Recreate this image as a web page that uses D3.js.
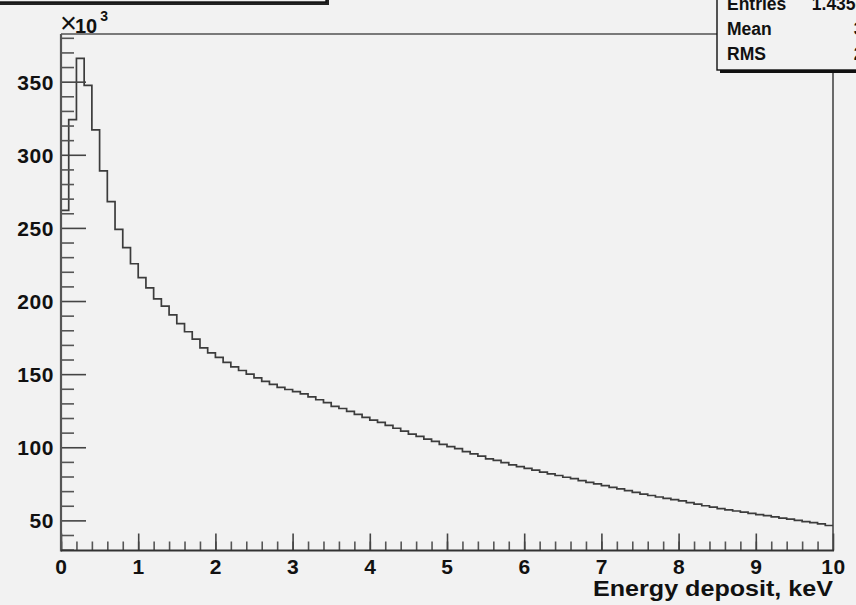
<!DOCTYPE html>
<html>
<head>
<meta charset="utf-8">
<script src="https://cdn.jsdelivr.net/npm/d3@7"></script>
<style>
  html, body { margin: 0; padding: 0; background: #f2f2f2; }
  svg { display: block; }
  text { font-family: "Liberation Sans", Arial, sans-serif; font-weight: bold; fill: #111; }
</style>
</head>
<body>
<svg id="c" width="856" height="605"></svg>
<script>
// Histogram binning: 100 bins of 0.1 keV between 0 and 10 keV
const binLow = 0, binHigh = 10, binCount = 100;

// Bin contents, in units of 10^3 counts
const counts = [
  262.0, 324.0, 366.0, 347.5, 317.0, 289.0, 268.0, 249.0, 236.5, 225.5,
  216.0, 209.0, 201.5, 196.5, 190.5, 184.5, 179.0, 174.0, 168.0, 164.5,
  161.5, 158.0, 155.0, 152.5, 150.0, 147.5, 145.0, 143.0, 141.0, 139.5,
  138.0, 136.5, 134.5, 132.5, 130.5, 128.0, 126.5, 124.5, 122.5, 120.5,
  118.5, 117.0, 115.0, 113.0, 111.0, 109.0, 107.5, 105.5, 104.0, 102.0,
  100.5, 99.0, 97.0, 95.5, 94.0, 92.0, 91.0, 89.5, 88.0, 86.8,
  85.5, 84.3, 83.0, 81.8, 80.7, 79.5, 78.5, 77.2, 76.0, 75.0,
  73.8, 72.6, 71.5, 70.4, 69.2, 68.0, 67.0, 66.0, 65.0, 64.2,
  63.3, 62.2, 61.1, 60.0, 59.0, 58.0, 57.2, 56.4, 55.6, 54.8,
  54.0, 53.2, 52.4, 51.6, 50.8, 50.0, 49.2, 48.4, 47.6, 46.5
];

// Axis ranges and tick values
const yRange = [29.4, 382.6];
const xMajorTicks = [0, 1, 2, 3, 4, 5, 6, 7, 8, 9, 10];
const xMinorTicks = d3.range(0, 50).map(i => i * 0.2);
const yMajorTicks = [50, 100, 150, 200, 250, 300, 350];
const yMinorTicks = [30, 40, 60, 70, 80, 90, 110, 120, 130, 140, 160, 170, 180, 190,
                     210, 220, 230, 240, 260, 270, 280, 290, 310, 320, 330, 340, 360, 370, 380];

// Statistics box
const statLabels = ["Entries", "Mean", "RMS"];
const statValues = ["1.435e+07", "3.883", "2.781"];
const xTitle = "Energy deposit, keV";

const frame = { left: 61, right: 833, top: 34, bottom: 550.5 };

const svg = d3.select("#c");
const x = d3.scaleLinear().domain([binLow, binHigh]).range([frame.left, frame.right]);
const y = d3.scaleLinear().domain(yRange).range([frame.bottom, frame.top]);

// Frame (top and right sides)
svg.append("line").attr("x1", frame.left).attr("x2", frame.right)
  .attr("y1", frame.top).attr("y2", frame.top)
  .attr("stroke", "#7a7a7a").attr("stroke-width", 2);
svg.append("line").attr("x1", frame.right).attr("x2", frame.right)
  .attr("y1", frame.top).attr("y2", frame.bottom)
  .attr("stroke", "#6a6a6a").attr("stroke-width", 2);

// Histogram outline as a step line
const binWidth = (binHigh - binLow) / binCount;
const steps = counts.map((v, i) => [binLow + i * binWidth, v]);
steps.push([binHigh, counts[counts.length - 1]]);
svg.append("path")
  .datum(steps)
  .attr("fill", "none")
  .attr("stroke", "#3c3c3c")
  .attr("stroke-width", 1.7)
  .attr("d", d3.line().x(d => x(d[0])).y(d => y(d[1])).curve(d3.curveStepAfter));

const labelFont = sel => sel
  .attr("fill", "#111")
  .style("font-family", "Liberation Sans, Arial, sans-serif")
  .style("font-weight", "bold");

// Y axis: minor and major ticks pointing into the frame
const yMinor = svg.append("g").attr("transform", `translate(${frame.left},0)`)
  .call(d3.axisLeft(y).tickValues(yMinorTicks).tickSizeInner(-13).tickSizeOuter(0).tickFormat(""));
yMinor.select(".domain").remove();
yMinor.selectAll(".tick line").attr("stroke", "#555").attr("stroke-width", 1.6);

const yMajor = svg.append("g").attr("transform", `translate(${frame.left},0)`)
  .call(d3.axisLeft(y).tickValues(yMajorTicks).tickSizeInner(-25).tickSizeOuter(0).tickPadding(7).tickFormat(d3.format("d")));
yMajor.select(".domain").remove();
yMajor.selectAll(".tick line").attr("stroke", "#444").attr("stroke-width", 1.6);
yMajor.selectAll(".tick text")
  .attr("font-size", 21).attr("dy", "0.36em").style("letter-spacing", "0.6px")
  .call(labelFont);

// X axis: minor and major ticks pointing into the frame
const xMinor = svg.append("g").attr("transform", `translate(0,${frame.bottom})`)
  .call(d3.axisBottom(x).tickValues(xMinorTicks).tickSizeInner(-9).tickSizeOuter(0).tickFormat(""));
xMinor.select(".domain").remove();
xMinor.selectAll(".tick line").attr("stroke", "#555").attr("stroke-width", 1.6);

const xMajor = svg.append("g").attr("transform", `translate(0,${frame.bottom})`)
  .call(d3.axisBottom(x).tickValues(xMajorTicks).tickSizeInner(-17).tickSizeOuter(0).tickFormat(d3.format("d")));
xMajor.select(".domain").remove();
xMajor.selectAll(".tick line").attr("stroke", "#444").attr("stroke-width", 1.6);
xMajor.selectAll(".tick text")
  .attr("font-size", 21).attr("y", 23).attr("dy", 0).style("letter-spacing", "0.6px")
  .call(labelFont);

// Axis lines drawn on top
svg.append("line").attr("x1", frame.left).attr("x2", frame.left)
  .attr("y1", frame.top).attr("y2", frame.bottom + 1)
  .attr("stroke", "#555").attr("stroke-width", 2.2);
svg.append("line").attr("x1", frame.left).attr("x2", frame.right + 1)
  .attr("y1", frame.bottom).attr("y2", frame.bottom)
  .attr("stroke", "#333").attr("stroke-width", 2.2);

// Axis title
svg.append("text").attr("x", frame.right).attr("y", 596)
  .attr("text-anchor", "end").attr("font-size", 22)
  .attr("textLength", 240).attr("lengthAdjust", "spacingAndGlyphs")
  .text(xTitle);

// Exponent label for the y axis
const expo = svg.append("text").attr("x", 60).attr("y", 33).attr("font-size", 20);
expo.append("tspan").attr("font-size", 29).style("font-weight", "normal").text("\u00d7");
expo.append("tspan").attr("dx", -2).text("10");
expo.append("tspan").attr("font-size", 14).attr("dy", -12).attr("dx", 3).text("3");

// Title box (mostly above the visible area)
svg.append("rect").attr("x", -10).attr("y", -30).attr("width", 339).attr("height", 35)
  .attr("fill", "#222");
svg.append("rect").attr("x", -10).attr("y", -30).attr("width", 336).attr("height", 32)
  .attr("fill", "#f2f2f2").attr("stroke", "#111").attr("stroke-width", 1.4);

// Statistics box
const sb = { x: 717, y: -12, w: 170, h: 82 };
svg.append("rect").attr("x", sb.x + 3).attr("y", sb.y + 3).attr("width", sb.w).attr("height", sb.h)
  .attr("fill", "#111");
svg.append("rect").attr("x", sb.x).attr("y", sb.y).attr("width", sb.w).attr("height", sb.h)
  .attr("fill", "#f2f2f2").attr("stroke", "#111").attr("stroke-width", 1.4);
const statY = [10, 35, 60];
statLabels.forEach((lab, i) => {
  svg.append("text").attr("x", 727).attr("y", statY[i]).attr("font-size", 17.5).text(lab);
  svg.append("text").attr("x", i === 0 ? 895 : 897.5).attr("y", statY[i]).attr("font-size", 17.5)
    .attr("text-anchor", "end").text(statValues[i]);
});
</script>
</body>
</html>
